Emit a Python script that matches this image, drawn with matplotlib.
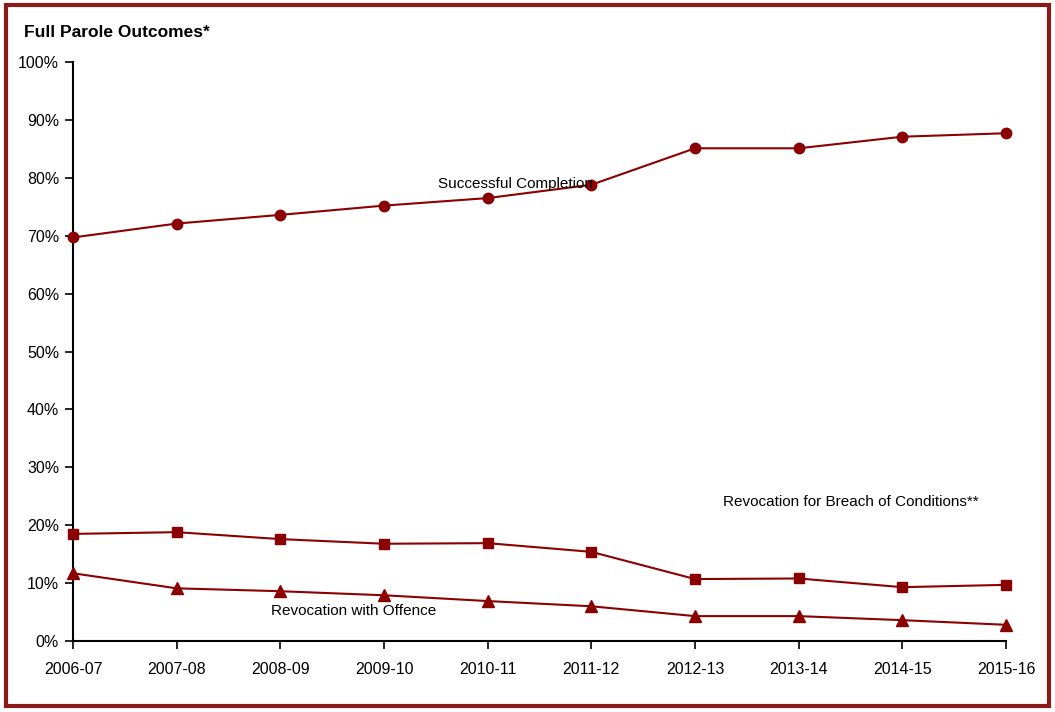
import matplotlib.pyplot as plt
from matplotlib.patches import Rectangle
from matplotlib.ticker import FuncFormatter

years = ["2006-07", "2007-08", "2008-09", "2009-10", "2010-11",
         "2011-12", "2012-13", "2013-14", "2014-15", "2015-16"]
successful = [69.7, 72.1, 73.6, 75.2, 76.5, 78.8, 85.1, 85.1, 87.1, 87.7]
breach = [18.5, 18.8, 17.6, 16.8, 16.9, 15.4, 10.7, 10.8, 9.3, 9.7]
offence = [11.7, 9.1, 8.6, 7.9, 6.9, 6.0, 4.3, 4.3, 3.6, 2.8]

RED = "#8b0000"
plt.rcParams["font.family"] = ["Liberation Sans", "DejaVu Sans"]

fig = plt.figure(figsize=(10.55, 7.12), dpi=100)
ax = fig.add_axes([0.0692, 0.0997, 0.8844, 0.8132])

x = list(range(len(years)))
ax.plot(x, successful, color=RED, lw=1.5, marker="o", ms=7.5, clip_on=False, zorder=3)
ax.plot(x, breach, color=RED, lw=1.5, marker="s", ms=7, clip_on=False, zorder=3)
ax.plot(x, offence, color=RED, lw=1.5, marker="^", ms=8, clip_on=False, zorder=3)

ax.set_xlim(0, len(years) - 1)
ax.set_ylim(0, 100)
ax.set_xticks(x)
ax.set_xticklabels(years)
ax.set_yticks(range(0, 101, 10))
ax.yaxis.set_major_formatter(FuncFormatter(lambda v, _: f"{v:.0f}%"))
ax.tick_params(labelsize=11.5, length=6, width=1.2, color="black")
ax.tick_params(axis="x", pad=9)
ax.tick_params(axis="y", pad=4)
for side in ("top", "right"):
    ax.spines[side].set_visible(False)
for side in ("left", "bottom"):
    ax.spines[side].set_linewidth(1.5)

ax.text(4.27, 78.9, "Successful Completion", ha="center", va="center", fontsize=11)
ax.text(7.50, 24.0, "Revocation for Breach of Conditions**", ha="center", va="center", fontsize=11)
ax.text(2.71, 5.2, "Revocation with Offence", ha="center", va="center", fontsize=11)

fig.text(0.023, 0.955, "Full Parole Outcomes*", ha="left", va="center",
         fontsize=12.5, fontweight="bold")

fig.patches.append(Rectangle((0.006, 0.009), 0.988, 0.984, transform=fig.transFigure,
                             fill=False, edgecolor="#8b1a1a", lw=3))

fig.savefig("out.png", dpi=100)
